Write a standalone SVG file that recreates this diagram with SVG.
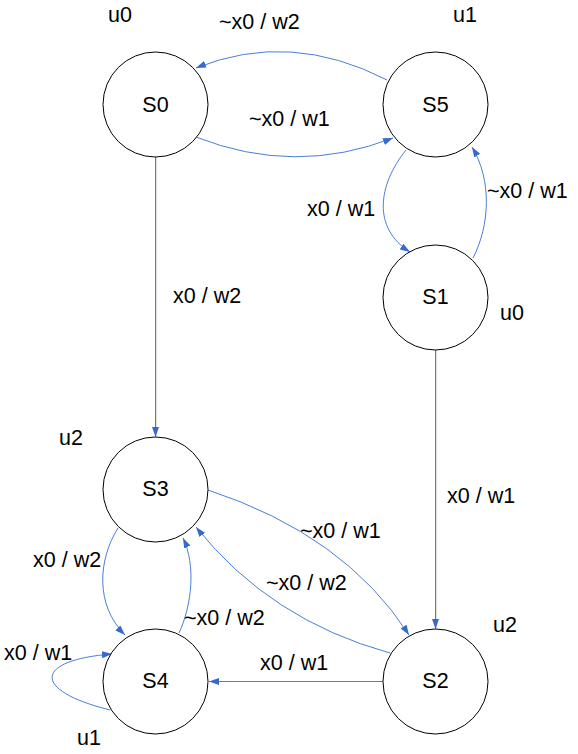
<svg xmlns="http://www.w3.org/2000/svg" width="578" height="754" viewBox="0 0 578 754">
<style>
text{font-family:"Liberation Sans",Arial,sans-serif;font-size:21.5px;fill:#000}
.st{fill:#fff;stroke:#000;stroke-width:1}
.c{fill:none;stroke:#4a7ed8;stroke-width:1}
.n{text-anchor:middle}
</style>
<defs>
<marker id="ah" markerUnits="userSpaceOnUse" markerWidth="11" markerHeight="8" refX="10" refY="3.5" orient="auto">
<path d="M0,0 L10,3.5 L0,7 z" fill="#3569d0"/>
</marker>
</defs>
<rect width="578" height="754" fill="#fff"/>
<g id="connectors">
<path class="c" d="M387,80 Q290,30 196,68" marker-end="url(#ah)"/>
<path class="c" d="M196,137 Q295,176 393,138" marker-end="url(#ah)"/>
<path class="c" d="M406,150 C378,185 372,228 410,252" marker-end="url(#ah)"/>
<path class="c" d="M473,258 C490,225 492,180 472,147" marker-end="url(#ah)"/>
<path d="M156.5,157 L156.5,436" stroke="#e0e0e0" stroke-width="1" fill="none"/>
<path class="c" d="M155.5,157 L155.5,437" marker-end="url(#ah)"/>
<path d="M436.5,350 L436.5,628" stroke="#e0e0e0" stroke-width="1" fill="none"/>
<path class="c" d="M435.5,350 L435.5,629" marker-end="url(#ah)"/>
<path class="c" d="M208,490 Q345,535 409,635" marker-end="url(#ah)"/>
<path class="c" d="M390,653 Q270,620 196,527" marker-end="url(#ah)"/>
<path class="c" d="M118,528 C98,560 95,605 125,635" marker-end="url(#ah)"/>
<path class="c" d="M179,633 C192,605 196,565 183,538" marker-end="url(#ah)"/>
<path class="c" d="M383,681.5 L209,681.5" stroke-width="2" stroke="#8fb0e8" marker-end="url(#ah)"/>
<path class="c" d="M110,710 C30,690 35,660 112,654" marker-end="url(#ah)"/>
</g>
<g id="S0"><circle class="st" cx="155.5" cy="104.5" r="52.5"/><text class="n" x="155.5" y="112">S0</text></g>
<g id="S5"><circle class="st" cx="435.5" cy="104.5" r="52.5"/><text class="n" x="435.5" y="112">S5</text></g>
<g id="S1"><circle class="st" cx="435.5" cy="297.5" r="52.5"/><text class="n" x="435.5" y="304">S1</text></g>
<g id="S3"><circle class="st" cx="155.5" cy="489.5" r="52.5"/><text class="n" x="155.5" y="496">S3</text></g>
<g id="S4"><circle class="st" cx="155.5" cy="681.5" r="52.5"/><text class="n" x="155.5" y="688">S4</text></g>
<g id="S2"><circle class="st" cx="435.5" cy="681.5" r="52.5"/><text class="n" x="435.5" y="688">S2</text></g>
<g id="labels">
<text x="108" y="22">u0</text>
<text x="453" y="22">u1</text>
<text x="500" y="320">u0</text>
<text x="59" y="445">u2</text>
<text x="493" y="632">u2</text>
<text x="77" y="745">u1</text>
<text x="219" y="29">~x0 / w2</text>
<text x="249" y="126">~x0 / w1</text>
<text x="307" y="216">x0 / w1</text>
<text x="487" y="198">~x0 / w1</text>
<text x="173" y="303">x0 / w2</text>
<text x="447" y="503">x0 / w1</text>
<text x="300" y="538">~x0 / w1</text>
<text x="266" y="590">~x0 / w2</text>
<text x="33" y="567">x0 / w2</text>
<text x="184" y="625">~x0 / w2</text>
<text x="4" y="660">x0 / w1</text>
<text x="260" y="670">x0 / w1</text>
</g>
</svg>
